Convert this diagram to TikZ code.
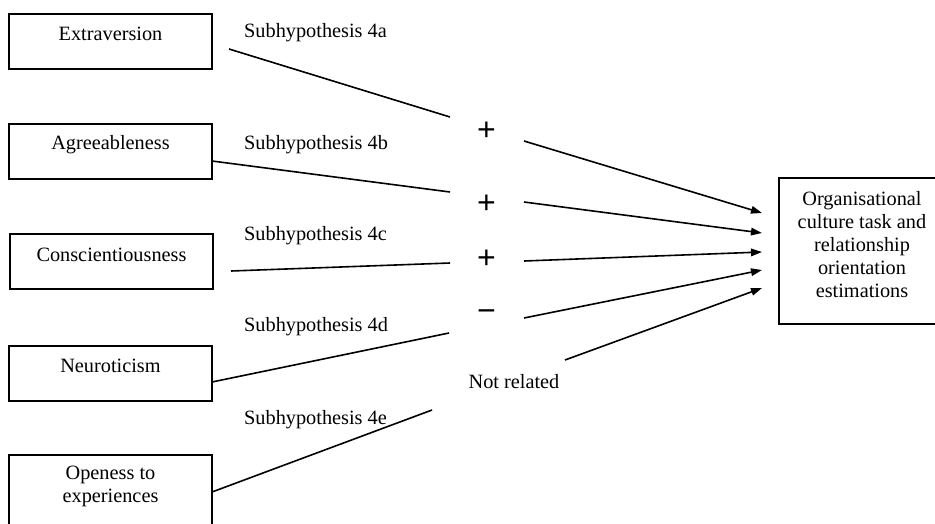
\documentclass[tikz,border=0pt]{standalone}
\usepackage{fontspec}
\setmainfont{Liberation Serif}
\newfontfamily\signfont{Liberation Sans}
\usetikzlibrary{arrows.meta}
\begin{document}
\begin{tikzpicture}[x=1pt,y=-1pt,
  trait/.style={draw, line width=1.2pt, minimum width=203pt, minimum height=55pt, inner sep=0pt},
  lbl/.style={inner sep=0pt, font=\fontsize{20.3}{23}\selectfont},
  sign/.style={inner sep=0pt, font=\signfont\fontsize{32}{32}\selectfont},
  link/.style={line width=1.6pt},
  arr/.style={line width=1.6pt, -{Triangle[length=11pt,width=7.5pt]}}]
\useasboundingbox (0,0) rectangle (935,523);
\clip (0,0) rectangle (935,523);

% personality trait boxes
\node[trait] (ext) at (110.5,41.5) {};
\node[trait] (agr) at (110.5,151.5) {};
\node[trait] (con) at (111.5,261.5) {};
\node[trait] (neu) at (110.5,373.5) {};
\node[trait, minimum height=90pt] (ope) at (110.5,500) {};
\node[lbl] (extT) at ([yshift=-20pt]ext.north) {Extraversion};
\node[lbl] (agrT) at ([yshift=-21pt]agr.north) {Agreeableness};
\node[lbl] (conT) at ([yshift=-21pt]con.north) {Conscientiousness};
\node[lbl] (neuT) at ([yshift=-20pt]neu.north) {Neuroticism};
\node[lbl, align=center] (opeT) at ([yshift=-32.5pt]ope.north) {Openess to\\experiences};

% outcome box
\node[draw, line width=1.2pt, minimum width=166pt, minimum height=146pt, inner sep=0pt] (out) at (862,251) {};
\node[lbl, align=center] (outT) at (862,245) {Organisational\\culture task and\\relationship\\orientation\\estimations};

% hypothesis labels
\node[lbl, anchor=west] (s4a) at (244,33) {Subhypothesis 4a};
\node[lbl, anchor=west] (s4b) at (244,145) {Subhypothesis 4b};
\node[lbl, anchor=west] (s4c) at (244,236) {Subhypothesis 4c};
\node[lbl, anchor=west] (s4d) at (244,327) {Subhypothesis 4d};
\node[lbl, anchor=west] (s4e) at (244,420) {Subhypothesis 4e};

% expected signs
\node[sign] (pa) at (486.5,131) {+};
\node[sign] (pb) at (486.5,204) {+};
\node[sign] (pc) at (486.5,259) {+};
\node[sign] (md) at (486.5,316) {−};
\node[lbl] (nr) at (514,382) {Not related};

% connector end points
\coordinate (a1) at (229,49);  \coordinate (a2) at (450,117);
\coordinate (b1) at (212,161); \coordinate (b2) at (450,192);
\coordinate (c1) at (231,271); \coordinate (c2) at (450,263);
\coordinate (d1) at (212,382); \coordinate (d2) at (449,333);
\coordinate (e1) at (212,492); \coordinate (e2) at (432,410);

\coordinate (ra) at (524,141); \coordinate (ta) at (762,213);
\coordinate (rb) at (524,202); \coordinate (tb) at (762,233);
\coordinate (rc) at (524,261); \coordinate (tc) at (762,252);
\coordinate (rd) at (524,318); \coordinate (td) at (762,270);
\coordinate (re) at (565,360); \coordinate (te) at (762,288);

% trait lines
\draw[link] (a1) -- (a2);
\draw[link] (b1) -- (b2);
\draw[link] (c1) -- (c2);
\draw[link] (d1) -- (d2);
\draw[link] (e1) -- (e2);

% arrows into the outcome
\draw[arr] (ra) -- (ta);
\draw[arr] (rb) -- (tb);
\draw[arr] (rc) -- (tc);
\draw[arr] (rd) -- (td);
\draw[arr] (re) -- (te);
\end{tikzpicture}
\end{document}
